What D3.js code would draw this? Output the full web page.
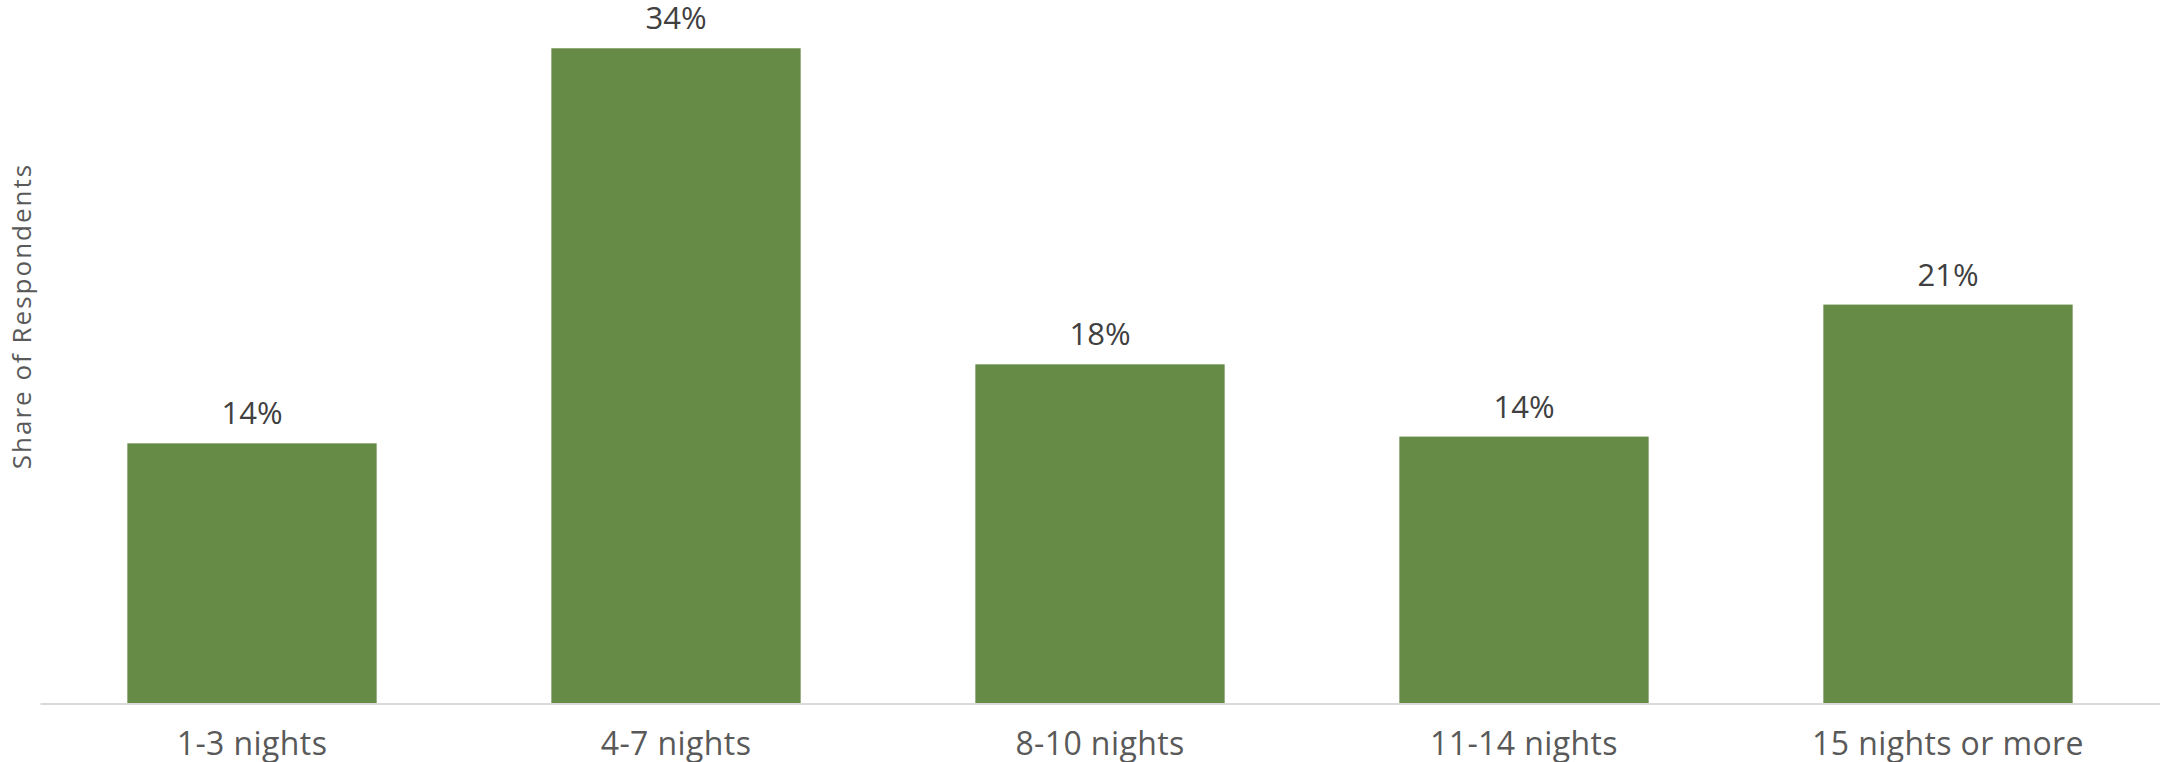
<!DOCTYPE html>
<html>
<head>
<meta charset="utf-8">
<script src="https://cdn.jsdelivr.net/npm/d3@7"></script>
<style>
  body { margin: 0; background: #fff; }
  svg { display: block; }
</style>
</head>
<body>
<div id="chart"></div>
<script>
// chart data
const categories = ["1-3 nights", "4-7 nights", "8-10 nights", "11-14 nights", "15 nights or more"];
const shares = [13.5, 34, 17.6, 13.85, 20.7];
const shareLabels = ["14%", "34%", "18%", "14%", "21%"];
const yTitle = "Share of Respondents";

const width = 2160;
const height = 762;
const margin = { top: 29, right: 0, bottom: 58.5, left: 40 };

const svg = d3.select("#chart")
  .append("svg")
  .attr("width", width)
  .attr("height", height)
  .attr("viewBox", [0, 0, width, height]);

const data = categories.map((c, i) => ({ cat: c, value: shares[i], label: shareLabels[i] }));

const x = d3.scaleBand()
  .domain(categories)
  .range([margin.left, width - margin.right])
  .paddingInner(0.412)
  .paddingOuter(0.206);

const y = d3.scaleLinear()
  .domain([0, 35])
  .range([height - margin.bottom, margin.top]);

// bars
svg.append("g")
  .selectAll("rect")
  .data(data)
  .join("rect")
  .attr("x", (d) => x(d.cat))
  .attr("y", (d) => y(d.value))
  .attr("width", x.bandwidth())
  .attr("height", (d) => y(0) - y(d.value))
  .attr("fill", "#668b46");

// value labels
svg.append("g")
  .selectAll("text")
  .data(data)
  .join("text")
  .attr("x", (d) => x(d.cat) + x.bandwidth() / 2)
  .attr("y", (d) => y(d.value) - 19)
  .attr("text-anchor", "middle")
  .attr("font-family", "'Open Sans', sans-serif")
  .attr("font-size", 31)
  .attr("fill", "#404040")
  .text((d) => d.label);

// x axis
const xAxis = svg.append("g")
  .attr("transform", `translate(0, ${y(0)})`)
  .call(d3.axisBottom(x).tickSize(0).tickPadding(29));

xAxis.select(".domain")
  .attr("stroke", "#d9d9d9")
  .attr("stroke-width", 2);

xAxis.selectAll("text")
  .attr("font-family", "'Open Sans', sans-serif")
  .attr("font-size", 32)
  .attr("letter-spacing", 0.4)
  .attr("fill", "#595959");

// y axis title
svg.append("text")
  .attr("transform", `translate(31, 316) rotate(-90)`)
  .attr("text-anchor", "middle")
  .attr("font-family", "'Open Sans', sans-serif")
  .attr("font-size", 26)
  .attr("letter-spacing", 2)
  .attr("fill", "#595959")
  .text(yTitle);
</script>
</body>
</html>
